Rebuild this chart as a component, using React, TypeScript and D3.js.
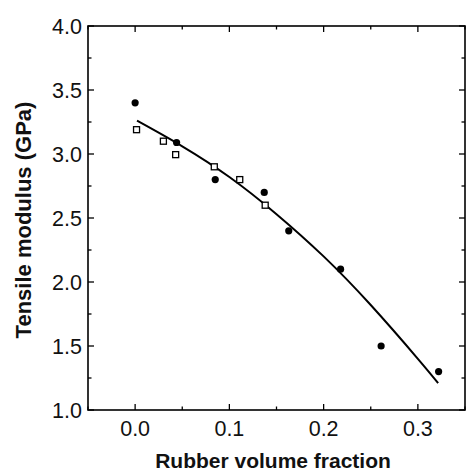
import React from "react";
import * as d3 from "d3";

const filledX = [0.0, 0.044, 0.085, 0.137, 0.163, 0.218, 0.261, 0.322];
const filledY = [3.4, 3.09, 2.8, 2.7, 2.4, 2.1, 1.5, 1.3];
const squareX = [0.0015, 0.03, 0.043, 0.084, 0.111, 0.138];
const squareY = [3.19, 3.1, 2.995, 2.9, 2.8, 2.6];
const fitX = [0.002, 0.05, 0.1, 0.15, 0.2, 0.25, 0.3, 0.3215];
const fitY = [3.26, 3.06, 2.82, 2.53, 2.2, 1.82, 1.4, 1.21];
const xTicks = [0.0, 0.1, 0.2, 0.3];
const xMinor = [-0.05, 0.05, 0.15, 0.25, 0.35];
const yTicks = [1.0, 1.5, 2.0, 2.5, 3.0, 3.5, 4.0];
const yMinor = [1.25, 1.75, 2.25, 2.75, 3.25, 3.75];
const xTitle = "Rubber volume fraction";
const yTitle = "Tensile modulus (GPa)";

const W = 468;
const H = 472;
const L = 88, R = 465, T = 26, B = 410;

export default function App() {
  const x = d3.scaleLinear().domain([-0.05, 0.35]).range([L, R]);
  const y = d3.scaleLinear().domain([1, 4]).range([B, T]);
  const line = d3
    .line<number>()
    .x((_, i) => x(fitX[i]))
    .y((d) => y(d))
    .curve(d3.curveNatural);
  const font = "Arial, 'Liberation Sans', Helvetica, sans-serif";
  const maj = 6, min = 3.5;
  return (
    <svg
      width={W}
      height={H}
      style={{ position: "absolute", left: 0, top: 0, background: "#fff" }}
      fontFamily={font}
    >
      <rect x={0} y={0} width={W} height={H} fill="#fff" />
      {/* ticks */}
      <g stroke="#000" strokeWidth={1.3}>
        {xTicks.map((t) => (
          <g key={"xt" + t}>
            <line x1={x(t)} x2={x(t)} y1={B} y2={B - maj} />
            <line x1={x(t)} x2={x(t)} y1={T} y2={T + maj} />
          </g>
        ))}
        {xMinor.map((t) => (
          <g key={"xm" + t}>
            <line x1={x(t)} x2={x(t)} y1={B} y2={B - min} />
            <line x1={x(t)} x2={x(t)} y1={T} y2={T + min} />
          </g>
        ))}
        {yTicks.map((t) => (
          <g key={"yt" + t}>
            <line x1={L} x2={L + maj} y1={y(t)} y2={y(t)} />
            <line x1={R} x2={R - maj} y1={y(t)} y2={y(t)} />
          </g>
        ))}
        {yMinor.map((t) => (
          <g key={"ym" + t}>
            <line x1={L} x2={L + min} y1={y(t)} y2={y(t)} />
            <line x1={R} x2={R - min} y1={y(t)} y2={y(t)} />
          </g>
        ))}
      </g>
      <rect x={L} y={T} width={R - L} height={B - T} fill="none" stroke="#000" strokeWidth={1.6} />
      {/* tick labels */}
      {xTicks.map((t) => (
        <text key={"xl" + t} x={x(t)} y={436} textAnchor="middle" fontSize={21.5} fill="#111">
          {d3.format(".1f")(t)}
        </text>
      ))}
      {yTicks.map((t) => (
        <text key={"yl" + t} x={82} y={y(t)} dy="0.36em" textAnchor="end" fontSize={21.5} fill="#111">
          {d3.format(".1f")(t)}
        </text>
      ))}
      {/* titles */}
      <text x={273} y={468} textAnchor="middle" fontSize={21} fontWeight="bold" fill="#111">
        {xTitle}
      </text>
      <text
        transform={`translate(31,220) rotate(-90)`}
        textAnchor="middle"
        fontSize={22}
        fontWeight="bold"
        fill="#111"
      >
        {yTitle}
      </text>
      {/* fit line */}
      <path d={line(fitY) || ""} fill="none" stroke="#000" strokeWidth={2} />
      {/* squares */}
      {squareX.map((v, i) => (
        <rect
          key={"s" + i}
          x={x(v) - 3}
          y={y(squareY[i]) - 3}
          width={6}
          height={6}
          fill="#fff"
          stroke="#000"
          strokeWidth={1.3}
        />
      ))}
      {/* filled circles */}
      {filledX.map((v, i) => (
        <circle key={"c" + i} cx={x(v)} cy={y(filledY[i])} r={3.6} fill="#000" />
      ))}
    </svg>
  );
}
